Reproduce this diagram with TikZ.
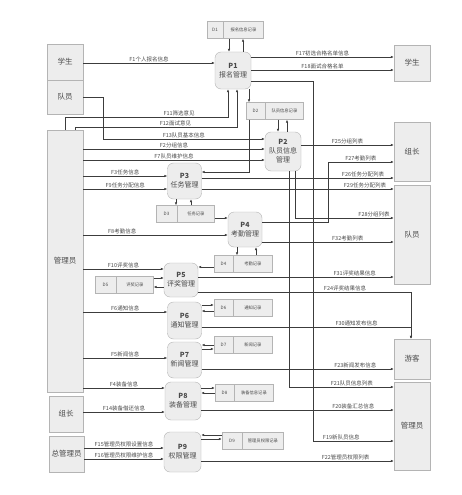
\documentclass[tikz,border=0pt]{standalone}
\usepackage{fontspec}
\setmainfont{Noto Sans CJK SC}
\usepackage{xcolor}
\usepackage{tikz}
\usetikzlibrary{arrows.meta, positioning}
\definecolor{trait}{HTML}{3C3C3C}
\definecolor{bordure}{HTML}{B4B4B4}
\definecolor{fondgris}{HTML}{EDEDED}
\definecolor{texte}{HTML}{4A4A4A}
\tikzset{
  entite/.style={rectangle, draw=bordure, fill=fondgris, text=texte,
    font=\fontsize{7.5}{9}\selectfont, minimum width=36pt, minimum height=36pt,
    align=center, inner sep=0pt},
  processus/.style={rectangle, rounded corners=6pt, draw=bordure, fill=fondgris,
    text=texte, font=\fontsize{7}{9}\selectfont, minimum width=34pt,
    minimum height=36pt, align=center, inner sep=0pt},
  stockid/.style={rectangle, draw=bordure, fill=fondgris, text=texte,
    font=\fontsize{4.5}{5}\selectfont, minimum width=19pt,
    minimum height=17pt, inner sep=0pt},
  stocknom/.style={stockid, font=\fontsize{4.3}{5}\selectfont, minimum width=39pt},
  fleche/.style={-{Latex[length=3pt, width=2.4pt]}, line width=0.5pt, color=trait},
  etiquette/.style={font=\fontsize{5.5}{6}\selectfont, text=texte, inner sep=1pt}
}

\begin{document}
\begin{tikzpicture}[x=1pt, y=-1pt]
    \useasboundingbox (0,0) rectangle (462,495);
    \fill[white] (0,0) rectangle (462,495);

    % entites externes
    \node[entite] (etudiantG) at (65,62) {学生};
    \node[entite, minimum height=34pt] (membreG) at (65,97) {队员};
    \node[entite, minimum height=262pt] (adminG) at (65,261) {管理员};
    \node[entite, minimum width=34pt] (chefG) at (66,414) {组长};
    \node[entite, minimum width=35pt] (superG) at (66.5,454) {总管理员};

    \node[entite] (etudiantD) at (412,63) {学生};
    \node[entite, minimum height=59pt] (chefD) at (412,151.5) {组长};
    \node[entite, minimum height=99pt] (membreD) at (412,234.5) {队员};
    \node[entite, minimum height=40pt] (visiteur) at (412,359) {游客};
    \node[entite, minimum height=88pt] (adminD) at (412,426) {管理员};

    % processus
    \node[processus, minimum width=36pt, minimum height=37pt] (p1) at (233,70.5) {\textbf{P1}\\报名管理};
    \node[processus, minimum width=36pt, minimum height=39pt] (p2) at (283,151.5) {\textbf{P2}\\队员信息\\管理};
    \node[processus] (p3) at (184.5,181) {\textbf{P3}\\任务管理};
    \node[processus, minimum height=35pt] (p4) at (245,229.5) {\textbf{P4}\\考勤管理};
    \node[processus, minimum height=34pt] (p5) at (181,280) {\textbf{P5}\\评奖管理};
    \node[processus, minimum height=37pt] (p6) at (184.5,320.5) {\textbf{P6}\\通知管理};
    \node[processus] (p7) at (184.5,360) {\textbf{P7}\\新闻管理};
    \node[processus, minimum width=36pt, minimum height=38pt] (p8) at (183,401) {\textbf{P8}\\装备管理};
    \node[processus, minimum width=37pt, minimum height=40pt] (p9) at (182.5,452) {\textbf{P9}\\权限管理};

    % stockages
    \node[stockid, minimum width=16pt] (d1) at (215,30) {D1};
    \node[stocknom, minimum width=40pt, right=0pt of d1] (d1n) {报名信息记录};
    \node[stockid] (d2) at (255.5,111) {D2};
    \node[stocknom, minimum width=38pt, right=0pt of d2] (d2n) {队员信息记录};
    \node[stockid, minimum width=21pt] (d3) at (166.5,214) {D3};
    \node[stocknom, minimum width=37pt, right=0pt of d3] (d3n) {任务记录};
    \node[stockid] (d4) at (223.5,264) {D4};
    \node[stocknom, right=0pt of d4] (d4n) {考勤记录};
    \node[stockid, minimum width=21pt] (d5) at (105.5,284.5) {D5};
    \node[stocknom, minimum width=37pt, right=0pt of d5] (d5n) {评奖记录};
    \node[stockid] (d6) at (223.5,307.5) {D6};
    \node[stocknom, right=0pt of d6] (d6n) {通知记录};
    \node[stockid] (d7) at (223.5,344.5) {D7};
    \node[stocknom, right=0pt of d7] (d7n) {新闻记录};
    \node[stockid] (d8) at (224.5,392.5) {D8};
    \node[stocknom, right=0pt of d8] (d8n) {装备信息记录};
    \node[stockid, minimum width=20pt] (d9) at (232,441) {D9};
    \node[stocknom, minimum width=41pt, right=0pt of d9] (d9n) {管理员权限记录};

    % P1
    \draw[fleche] (etudiantG.east |- 0,63) -- node[etiquette, above]{F1个人报名信息} (p1.west |- 0,63);
    \draw[fleche] (p1.east |- 0,57) -- node[etiquette, above]{F17初选合格名单信息} (etudiantD.west |- 0,57);
    \draw[fleche] (p1.east |- 0,70) -- node[etiquette, above]{F18面试合格名单} (etudiantD.west |- 0,70);
    \draw[fleche] (d1n.south -| 229,0) -- (p1.north -| 229,0);
    \draw[fleche] (p1.north -| 243,0) -- (d1n.south -| 243,0);
    \draw[fleche] (adminG.north -| 65,0) -- (65,117) -- node[etiquette, above, pos=0.7]{F11筛选意见} (228,117) -- (p1.south -| 228,0);
    \draw[fleche] (adminG.north -| 75,0) -- (75,127) -- node[etiquette, above, pos=0.62]{F12面试意见} (237,127) -- (p1.south -| 237,0);
    \draw[fleche] (p1.south -| 249,0) -- (d2.north -| 249,0);
    \draw[fleche] (p1.east |- 0,81) -- (313,81) -- (313,441) -- node[etiquette, above, pos=0.35]{F19新队员信息} (adminD.west |- 0,441);

    % P2
    \draw[fleche] (membreG.east |- 0,97) -- (103,97) -- (103,139) -- node[etiquette, above]{F13队员基本信息} (p2.west |- 0,139);
    \draw[fleche] (adminG.east |- 0,149) -- node[etiquette, above]{F2分组信息} (p2.west |- 0,149);
    \draw[fleche] (adminG.east |- 0,160) -- node[etiquette, above]{F7队员维护信息} (p2.west |- 0,160);
    \draw[fleche] (d2n.south -| 278,0) -- (p2.north -| 278,0);
    \draw[fleche] (p2.north -| 287,0) -- (d2n.south -| 287,0);
    \draw[fleche] (p2.east |- 0,145) -- node[etiquette, above]{F25分组列表} (chefD.west |- 0,145);
    \draw[fleche] (p2.south -| 295,0) -- (295,218) -- node[etiquette, above, pos=0.8]{F28分组列表} (membreD.west |- 0,218);
    \draw[fleche] (p2.south -| 289,0) -- (289,387) -- node[etiquette, above, pos=0.6]{F21队员信息列表} (adminD.west |- 0,387);

    % P3
    \draw[fleche] (d2.south -| 249,0) -- (249,172) -- (p3.east |- 0,172);
    \draw[fleche] (adminG.east |- 0,176) -- node[etiquette, above]{F3任务信息} (p3.west |- 0,176);
    \draw[fleche] (adminG.east |- 0,189) -- node[etiquette, above]{F9任务分配信息} (p3.west |- 0,189);
    \draw[fleche] (p3.east |- 0,178) -- node[etiquette, above, pos=0.84]{F26任务分配列表} (chefD.west |- 0,178);
    \draw[fleche] (p3.east |- 0,189) -- node[etiquette, above, pos=0.85]{F29任务分配列表} (membreD.west |- 0,189);
    \draw[fleche] (p3.south -| 176,0) -- (d3.north -| 176,0);
    \draw[fleche] (d3n.north -| 191,0) -- (p3.south -| 191,0);

    % P4
    \draw[fleche] (d3n.east |- 0,218) -- (p4.west |- 0,218);
    \draw[fleche] (adminG.east |- 0,235) -- node[etiquette, above, pos=0.27]{F8考勤信息} (p4.west |- 0,235);
    \draw[fleche] (p4.east |- 0,222) -- (328,222) -- (328,162) -- node[etiquette, above]{F27考勤列表} (chefD.west |- 0,162);
    \draw[fleche] (p4.east |- 0,242) -- node[etiquette, above, pos=0.65]{F32考勤列表} (membreD.west |- 0,242);
    \draw[fleche] (p4.south -| 237,0) -- (d4n.north -| 237,0);
    \draw[fleche] (d4n.north -| 256,0) -- (p4.south -| 256,0);

    % P5
    \draw[fleche] (d4.west |- 0,267) -- (p5.east |- 0,267);
    \draw[fleche] (adminG.east |- 0,269) -- node[etiquette, above]{F10评奖信息} (p5.west |- 0,269);
    \draw[fleche] (d5n.east |- 0,278) -- (p5.west |- 0,278);
    \draw[fleche] (p5.west |- 0,287) -- (d5n.east |- 0,287);
    \draw[fleche] (p5.east |- 0,277) -- node[etiquette, above, pos=0.8]{F31评奖结果信息} (membreD.west |- 0,277);
    \draw[fleche] (p5.east |- 0,292) -- node[etiquette, above, pos=0.69]{F24评奖结果信息} (411,292) -- (visiteur.north -| 411,0);

    % P6
    \draw[fleche] (adminG.east |- 0,312) -- node[etiquette, above]{F6通知信息} (p6.west |- 0,312);
    \draw[fleche] (p6.east |- 0,305) -- (d6.west |- 0,305);
    \draw[fleche] (d6.west |- 0,311) -- (p6.east |- 0,311);
    \draw[fleche] (p6.east |- 0,327) -- node[etiquette, above, pos=0.74]{F30通知发布信息} (411,327) -- (visiteur.north -| 411,0);

    % P7
    \draw[fleche] (adminG.east |- 0,358) -- node[etiquette, above]{F5新闻信息} (p7.west |- 0,358);
    \draw[fleche] (d7.west |- 0,345) -- (p7.east |- 0,345);
    \draw[fleche] (p7.east |- 0,349) -- (d7.west |- 0,349);
    \draw[fleche] (p7.east |- 0,369) -- node[etiquette, above, pos=0.8]{F23新闻发布信息} (visiteur.west |- 0,369);

    % P8
    \draw[fleche] (adminG.east |- 0,388) -- node[etiquette, above]{F4装备信息} (p8.west |- 0,388);
    \draw[fleche] (chefG.east |- 0,412) -- node[etiquette, above]{F14装备借还信息} (p8.west |- 0,412);
    \draw[fleche] (p8.east |- 0,388) -- (d8.west |- 0,388);
    \draw[fleche] (d8.west |- 0,393) -- (p8.east |- 0,393);
    \draw[fleche] (p8.east |- 0,410) -- node[etiquette, above, pos=0.79]{F20装备汇总信息} (adminD.west |- 0,410);

    % P9
    \draw[fleche] (superG.east |- 0,448) -- node[etiquette, above]{F15管理员权限设置信息} (p9.west |- 0,448);
    \draw[fleche] (superG.east |- 0,459) -- node[etiquette, above]{F16管理员权限维护信息} (p9.west |- 0,459);
    \draw[fleche] (d9.west |- 0,435) -- (p9.east |- 0,435);
    \draw[fleche] (p9.east |- 0,439) -- (d9.west |- 0,439);
    \draw[fleche] (p9.east |- 0,461) -- node[etiquette, above, pos=0.75]{F22管理员权限列表} (adminD.west |- 0,461);
\end{tikzpicture}
\end{document}
